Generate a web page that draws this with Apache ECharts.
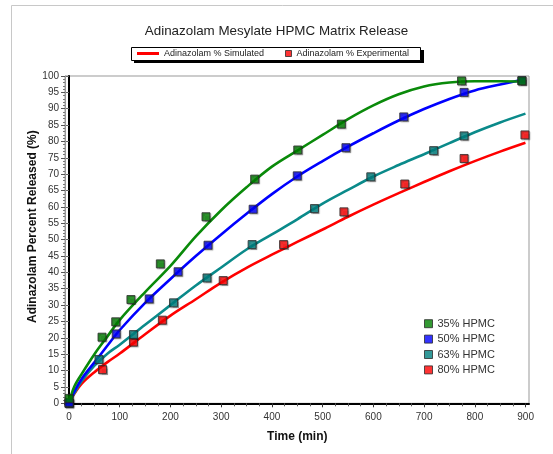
<!DOCTYPE html>
<html>
<head>
<meta charset="utf-8">
<script src="https://cdn.jsdelivr.net/npm/echarts@6/dist/echarts.min.js"></script>
<style>html,body{margin:0;padding:0;background:#fff;}#c{width:553px;height:454px;}</style>
</head>
<body>
<div id="c"></div>
<script>
// ---- data ----
const seriesNames = ['35% HPMC', '50% HPMC', '63% HPMC', '80% HPMC'];
const xTicks = [0, 100, 200, 300, 400, 500, 600, 700, 800, 900];
const yTicks = [0, 5, 10, 15, 20, 25, 30, 35, 40, 45, 50, 55, 60, 65, 70, 75, 80, 85, 90, 95, 100];

// simulated curves (time, % released)
const timeSim = [0, 10, 25, 50, 75, 100, 150, 200, 250, 300, 350, 400, 450, 500, 550, 600, 650, 700, 750, 800, 850, 900];
const sim35 = [0, 5, 9, 15, 20.3, 25.5, 34, 42, 51, 59, 66, 72.3, 77.2, 82, 86.8, 91, 94.4, 96.8, 98, 98.4, 98.4, 98.3];
const sim50 = [0, 3.5, 7.5, 12.5, 17.5, 22.4, 30.7, 38, 45, 51.6, 57.9, 63.9, 69.3, 74, 78.4, 82.5, 86.4, 89.9, 93, 95.6, 97.4, 99.0];
const sim63 = [0, 3, 6.8, 11.5, 15.1, 17.9, 24, 30, 36, 41.5, 47, 51.6, 56.2, 61, 65.2, 69.3, 72.8, 76.1, 79.5, 82.8, 85.8, 88.5];
const sim80 = [0, 2.8, 6, 9.5, 12.5, 15.2, 21.1, 26.8, 31.8, 36.9, 41.4, 45.4, 49.3, 53.1, 57, 60.7, 64.2, 67.6, 70.9, 74, 76.9, 79.6];

// experimental points
const exp35Time = [0, 65, 92, 122, 180, 270, 366, 451, 537, 774, 893];
const exp35 = [1.5, 20.2, 24.9, 31.7, 42.6, 57, 68.5, 77.4, 85.3, 98.5, 98.5];
const exp50Time = [0, 93, 158, 215, 274, 363, 450, 546, 660, 779, 893];
const exp50 = [0.3, 21.2, 31.9, 40.2, 48.3, 59.3, 69.5, 78.1, 87.5, 95, 98.6];
const exp63Time = [0, 59, 127, 206, 272, 361, 484, 595, 719, 779];
const exp63 = [0, 13.4, 21, 30.7, 38.3, 48.5, 59.5, 69.2, 77.2, 81.7];
const exp80Time = [0, 66, 127, 184, 304, 423, 542, 662, 779, 899];
const exp80 = [0, 10.3, 18.7, 25.4, 37.5, 48.5, 58.5, 67, 74.8, 82];

const legendTopNames = ['Adinazolam % Simulated', 'Adinazolam % Experimental'];

// ---- styles ----
const lineColors = ['#0a8a0a', '#0000ff', '#0a8a8a', '#ff0000'];
const markColors = ['#008000', '#0000ff', '#008080', '#ff0000'];
const FONT = 'Liberation Sans, Arial, sans-serif';

function pairs(xs, ys) { return xs.map((x, i) => [x, ys[i]]); }
const simSets = [sim35, sim50, sim63, sim80];
const expSets = [[exp35Time, exp35], [exp50Time, exp50], [exp63Time, exp63], [exp80Time, exp80]];

const series = [];
for (let i = 3; i >= 0; i--) {
  series.push({
    name: seriesNames[i] + ' sim', type: 'line', xAxisIndex: 0, yAxisIndex: 0,
    data: pairs(timeSim, simSets[i]), smooth: 0.35, symbol: 'none',
    lineStyle: { color: lineColors[i], width: 2.6 }, z: 3, silent: true
  });
}
for (let i = 3; i >= 0; i--) {
  series.push({
    name: seriesNames[i], type: 'scatter', xAxisIndex: 0, yAxisIndex: 0,
    data: pairs(expSets[i][0], expSets[i][1]), symbol: 'rect', symbolSize: 8,
    itemStyle: { color: markColors[i], borderColor: '#2a2a2a', borderWidth: 1,
      shadowColor: 'rgba(0,0,0,0.35)', shadowOffsetX: 1, shadowOffsetY: 1, shadowBlur: 1 },
    z: 5, silent: true
  });
}
// dummy series for the top legend
series.push({ name: legendTopNames[0], type: 'line', data: [], symbol: 'none',
  color: '#ff0000', lineStyle: { color: '#ff0000', width: 3 }, xAxisIndex: 0, yAxisIndex: 0 });
series.push({ name: legendTopNames[1], type: 'scatter', data: [], symbol: 'rect',
  itemStyle: { color: '#ff0000', borderColor: '#2a2a2a', borderWidth: 1 }, xAxisIndex: 0, yAxisIndex: 0 });

const chart = echarts.init(document.getElementById('c'), null, { renderer: 'canvas' });
chart.setOption({
  animation: false,
  backgroundColor: '#fff',
  textStyle: { fontFamily: FONT },
  title: {
    text: 'Adinazolam Mesylate HPMC Matrix Release', left: 'center', top: 20,
    textStyle: { fontFamily: FONT, fontSize: 13.4, fontWeight: 'normal', color: '#222' }
  },
  graphic: [
    { type: 'rect', shape: { x: 11.5, y: 5.5, width: 700, height: 600 },
      style: { fill: 'none', stroke: '#c8c8c8', lineWidth: 1 }, z: -10, silent: true },
    { type: 'rect', shape: { x: 134, y: 50, width: 290, height: 13 },
      style: { fill: '#000' }, z: 0, silent: true },
    { type: 'rect', shape: { x: 131.5, y: 47.5, width: 289, height: 13 },
      style: { fill: '#fff', stroke: '#000', lineWidth: 1 }, z: 1, silent: true }
  ],
  legend: [{
    data: [{ name: legendTopNames[0], icon: 'rect' }],
    left: 137, top: 48, padding: 0,
    itemWidth: 22, itemHeight: 3,
    itemStyle: { color: '#ff0000', borderWidth: 0 },
    textStyle: { fontFamily: FONT, fontSize: 9, color: '#222', lineHeight: 11 },
    selectedMode: false, z: 10
  }, {
    data: [{ name: legendTopNames[1], icon: 'rect' }],
    left: 285, top: 48, padding: 0,
    itemWidth: 6, itemHeight: 6,
    itemStyle: { color: '#ff0000', borderColor: '#2a2a2a', borderWidth: 1 },
    textStyle: { fontFamily: FONT, fontSize: 9, color: '#222', lineHeight: 11 },
    selectedMode: false, z: 10
  }, {
    data: seriesNames.map(n => ({ name: n, icon: 'rect' })),
    left: 419, top: 312, orient: 'vertical', itemGap: 2,
    itemWidth: 8, itemHeight: 8,
    itemStyle: { borderColor: '#2a2a2a', borderWidth: 1 },
    textStyle: { fontFamily: FONT, fontSize: 11, color: '#333', lineHeight: 13.4 },
    selectedMode: false
  }],
  grid: [
    { left: 65, right: 24, top: 76, bottom: 50.7, show: true, borderColor: '#999', borderWidth: 1, backgroundColor: '#fff' },
    { left: 69, right: 27.4, top: 76, bottom: 50.7 }
  ],
  xAxis: [
    { type: 'value', gridIndex: 0, min: -8, max: 907, position: 'bottom',
      axisLine: { show: true, lineStyle: { color: '#000', width: 2 } },
      axisTick: { show: false }, axisLabel: { show: false }, splitLine: { show: false } },
    { type: 'value', gridIndex: 1, min: xTicks[0], max: xTicks[xTicks.length - 1], interval: 100,
      position: 'bottom',
      axisLine: { show: false, onZero: false },
      axisTick: { show: true, length: 4, lineStyle: { color: '#333' } },
      minorTick: { show: true, splitNumber: 4, length: 3, lineStyle: { color: '#555' } },
      axisLabel: { color: '#333', fontSize: 10, margin: 9, fontFamily: FONT },
      splitLine: { show: false },
      name: 'Time (min)', nameLocation: 'middle', nameGap: 27,
      nameTextStyle: { fontFamily: FONT, fontSize: 12, fontWeight: 'bold', color: '#111' } }
  ],
  yAxis: [
    { type: 'value', gridIndex: 0, min: 0, max: 100, interval: 5, position: 'right',
      axisLine: { show: true, lineStyle: { color: '#000', width: 2 } },
      axisTick: { show: true, inside: true, length: 3, lineStyle: { color: '#666' } },
      axisLabel: { show: false }, splitLine: { show: false } },
    { type: 'value', gridIndex: 0, min: yTicks[0], max: yTicks[yTicks.length - 1], interval: 5, position: 'left',
      axisLine: { show: true, lineStyle: { color: '#999', width: 1 } },
      axisTick: { show: true, length: 4, lineStyle: { color: '#555' } },
      minorTick: { show: true, splitNumber: 5, length: 2, lineStyle: { color: '#777' } },
      axisLabel: { color: '#333', fontSize: 10, margin: 6, fontFamily: FONT },
      splitLine: { show: false },
      name: 'Adinazolam Percent Released (%)', nameLocation: 'middle', nameGap: 26, nameRotate: 90,
      nameMoveOverlap: false,
      nameTextStyle: { fontFamily: FONT, fontSize: 12, fontWeight: 'bold', color: '#111', padding: [0, 0, 0, 26] } },
    { type: 'value', gridIndex: 1, min: 0, max: 100, show: false }
  ],
  series: series
});
</script>
</body>
</html>
